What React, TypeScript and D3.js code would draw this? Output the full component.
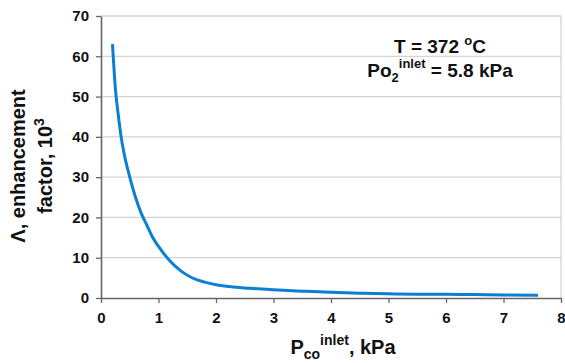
import React, { useRef, useEffect } from 'react';
import * as d3 from 'd3';

// inlet CO pressure (kPa) and enhancement factor (x10^3)
const pCO = [0.2, 0.25, 0.3, 0.35, 0.4, 0.5, 0.6, 0.7, 0.8, 0.9, 1.0, 1.2, 1.4, 1.6, 1.8, 2.0, 2.3, 2.6, 3.0, 3.5, 4.0, 4.5, 5.0, 5.5, 6.0, 6.5, 7.0, 7.6];
const enhancement = [63, 52, 45.5, 40, 36, 30, 25, 21, 18, 15, 12.8, 9.2, 6.6, 4.9, 3.95, 3.3, 2.75, 2.4, 2.05, 1.7, 1.4, 1.2, 1.05, 0.95, 0.9, 0.85, 0.75, 0.7];
const xTicks = [0, 1, 2, 3, 4, 5, 6, 7, 8];
const yTicks = [0, 10, 20, 30, 40, 50, 60, 70];

const W = 565;
const H = 363;

const App = () => {
  const ref = useRef<SVGSVGElement>(null);

  useEffect(() => {
    const svg = d3.select(ref.current);
    svg.selectAll('*').remove();

    const left = 101, right = 561, top = 16, bottom = 298;
    const x = d3.scaleLinear().domain([0, 8]).range([left, right]);
    const y = d3.scaleLinear().domain([0, 70]).range([bottom, top]);
    const font = "'Liberation Sans', Arial, sans-serif";

    // grid
    svg.append('g')
      .selectAll('line')
      .data(yTicks.filter(d => d > 0))
      .enter()
      .append('line')
      .attr('x1', left).attr('x2', right)
      .attr('y1', d => y(d)).attr('y2', d => y(d))
      .attr('stroke', '#d4d4d4').attr('stroke-width', 1.3);

    // right border
    svg.append('line')
      .attr('x1', right).attr('x2', right)
      .attr('y1', top).attr('y2', bottom)
      .attr('stroke', '#d4d4d4').attr('stroke-width', 1.3);

    // axes
    const yAxis = svg.append('g')
      .attr('transform', `translate(${left},0)`)
      .call(d3.axisLeft(y).tickValues(yTicks).tickSize(5).tickSizeOuter(0).tickPadding(7));
    const xAxis = svg.append('g')
      .attr('transform', `translate(0,${bottom})`)
      .call(d3.axisBottom(x).tickValues(xTicks).tickSize(5).tickSizeOuter(0).tickPadding(9));
    [xAxis, yAxis].forEach(a => {
      a.select('.domain').attr('stroke', '#666').attr('stroke-width', 1.6);
      a.selectAll('.tick line').attr('stroke', '#666').attr('stroke-width', 1.3);
      a.selectAll('.tick text')
        .attr('fill', '#111')
        .attr('font-family', font)
        .attr('font-weight', 'bold')
        .attr('font-size', 15);
    });

    // curve
    const line = d3.line<number>()
      .x((d, i) => x(pCO[i]))
      .y(d => y(d))
      .curve(d3.curveMonotoneX);
    svg.append('path')
      .datum(enhancement)
      .attr('d', line)
      .attr('fill', 'none')
      .attr('stroke', '#0a7fd4')
      .attr('stroke-width', 3);

    // x label
    const xl = svg.append('text')
      .attr('x', 343).attr('y', 354)
      .attr('text-anchor', 'middle')
      .attr('font-family', font).attr('font-weight', 'bold').attr('font-size', 20)
      .attr('fill', '#111');
    xl.append('tspan').text('P');
    xl.append('tspan').attr('font-size', 14).attr('dy', 5).text('co');
    xl.append('tspan').attr('font-size', 14).attr('dy', -14).text('inlet');
    xl.append('tspan').attr('dy', 9).text(', kPa');

    // y label
    const yl = svg.append('g').attr('transform', 'translate(25,166) rotate(-90)');
    yl.append('text')
      .attr('text-anchor', 'middle')
      .attr('font-family', font).attr('font-weight', 'bold').attr('font-size', 20)
      .attr('fill', '#111')
      .text('Λ, enhancement');
    const yl2 = yl.append('text')
      .attr('y', 27)
      .attr('text-anchor', 'middle')
      .attr('font-family', font).attr('font-weight', 'bold').attr('font-size', 20)
      .attr('fill', '#111');
    yl2.append('tspan').text('factor, 10');
    yl2.append('tspan').attr('font-size', 14).attr('dy', -8).text('3');

    // annotation
    const a1 = svg.append('text')
      .attr('x', 440).attr('y', 53)
      .attr('text-anchor', 'middle')
      .attr('font-family', font).attr('font-weight', 'bold').attr('font-size', 19)
      .attr('fill', '#111');
    a1.append('tspan').text('T = 372 ');
    a1.append('tspan').attr('font-size', 13).attr('dy', -8).text('o');
    a1.append('tspan').attr('dy', 8).text('C');

    const a2 = svg.append('text')
      .attr('x', 440).attr('y', 77)
      .attr('text-anchor', 'middle')
      .attr('font-family', font).attr('font-weight', 'bold').attr('font-size', 19)
      .attr('fill', '#111');
    a2.append('tspan').text('Po');
    a2.append('tspan').attr('font-size', 13).attr('dy', 5).text('2');
    a2.append('tspan').attr('font-size', 13).attr('dy', -14).text('inlet');
    a2.append('tspan').attr('dy', 9).text(' = 5.8 kPa');
  }, []);

  return (
    <svg
      ref={ref}
      width={W}
      height={H}
      style={{ position: 'absolute', left: 0, top: 0, background: '#fff' }}
    />
  );
};

export default App;
